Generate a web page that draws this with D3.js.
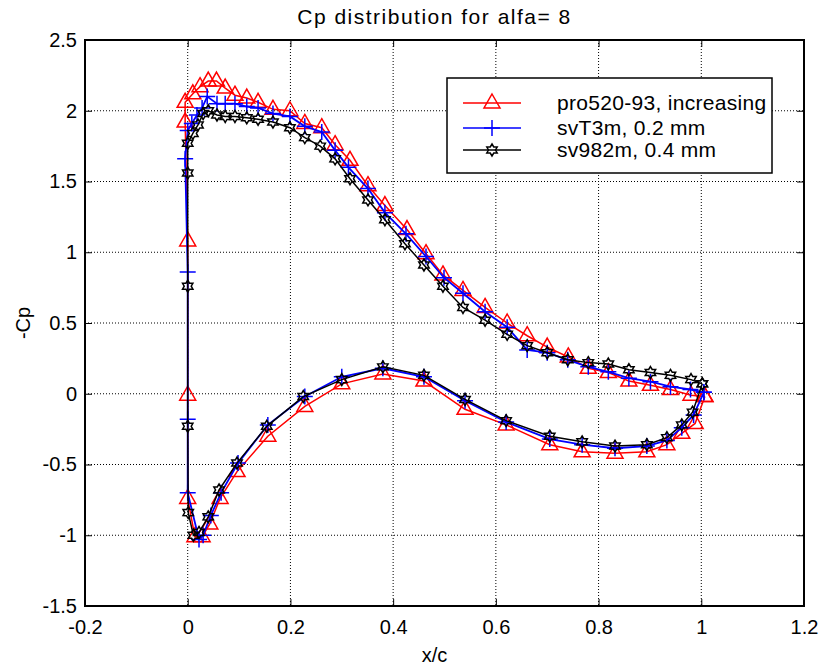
<!DOCTYPE html>
<html>
<head>
<meta charset="utf-8">
<script src="https://cdn.jsdelivr.net/npm/d3@7"></script>
<style>
  body { margin: 0; background: #fff; }
  svg { font-family: "Liberation Sans", Arial, sans-serif; }
</style>
</head>
<body>
<div id="chart"></div>
<script>
// pro520-93, increasing  (upper surface TE -> LE -> lower surface TE)
const proX  = [1.007, 0.980, 0.940, 0.901, 0.859, 0.819, 0.780, 0.741, 0.700, 0.661, 0.622, 0.579, 0.536, 0.497, 0.464, 0.427, 0.384, 0.351, 0.316, 0.287, 0.261, 0.228, 0.199, 0.166, 0.137, 0.115, 0.092, 0.073, 0.056, 0.040, 0.024, 0.010, -0.005, -0.005, 0.000, 0.000, 0.000, 0.014, 0.028, 0.043, 0.063, 0.096, 0.156, 0.228, 0.300, 0.380, 0.460, 0.540, 0.620, 0.705, 0.768, 0.832, 0.894, 0.933, 0.962, 0.988, 1.007];
const proCp = [-0.02, -0.01, 0.03, 0.06, 0.09, 0.15, 0.18, 0.26, 0.33, 0.41, 0.50, 0.61, 0.73, 0.84, 0.99, 1.16, 1.33, 1.47, 1.65, 1.76, 1.88, 1.91, 2.00, 2.01, 2.06, 2.09, 2.11, 2.16, 2.21, 2.21, 2.17, 2.12, 2.06, 1.92, 1.08, -0.01, -0.74, -1.01, -1.01, -0.92, -0.74, -0.55, -0.30, -0.09, 0.07, 0.14, 0.09, -0.11, -0.22, -0.36, -0.41, -0.42, -0.41, -0.36, -0.28, -0.21, -0.02];

// svT3m, 0.2 mm
const svtX  = [1.005, 0.979, 0.940, 0.901, 0.859, 0.819, 0.780, 0.740, 0.700, 0.661, 0.622, 0.579, 0.536, 0.499, 0.464, 0.425, 0.384, 0.351, 0.313, 0.287, 0.261, 0.228, 0.199, 0.166, 0.137, 0.115, 0.092, 0.073, 0.057, 0.038, 0.028, 0.018, 0.008, 0.000, -0.005, 0.000, 0.000, 0.000, 0.022, 0.030, 0.045, 0.065, 0.098, 0.156, 0.228, 0.300, 0.380, 0.460, 0.540, 0.620, 0.705, 0.768, 0.832, 0.894, 0.933, 0.962, 0.985, 1.005];
const svtCp = [0.01, 0.03, 0.05, 0.085, 0.11, 0.155, 0.19, 0.24, 0.29, 0.31, 0.47, 0.58, 0.71, 0.82, 0.97, 1.13, 1.28, 1.45, 1.60, 1.72, 1.85, 1.89, 1.96, 1.98, 2.02, 2.03, 2.05, 2.05, 2.05, 2.10, 2.02, 1.97, 1.91, 1.86, 1.66, 0.86, -0.18, -0.70, -1.03, -1.00, -0.86, -0.70, -0.49, -0.22, -0.02, 0.12, 0.18, 0.12, -0.05, -0.20, -0.32, -0.36, -0.385, -0.37, -0.33, -0.24, -0.15, 0.01];

// sv982m, 0.4 mm
const sv9X  = [1.002, 0.980, 0.940, 0.901, 0.859, 0.819, 0.780, 0.740, 0.700, 0.661, 0.622, 0.579, 0.536, 0.497, 0.460, 0.423, 0.384, 0.351, 0.316, 0.287, 0.258, 0.228, 0.199, 0.166, 0.137, 0.115, 0.092, 0.073, 0.057, 0.040, 0.030, 0.020, 0.010, 0.000, 0.000, 0.000, 0.000, 0.001, 0.011, 0.022, 0.040, 0.061, 0.096, 0.154, 0.225, 0.300, 0.380, 0.460, 0.540, 0.620, 0.705, 0.768, 0.832, 0.894, 0.933, 0.962, 0.983, 1.002];
const sv9Cp = [0.07, 0.10, 0.13, 0.15, 0.17, 0.21, 0.22, 0.24, 0.29, 0.34, 0.42, 0.52, 0.61, 0.76, 0.91, 1.06, 1.23, 1.37, 1.52, 1.66, 1.75, 1.81, 1.88, 1.92, 1.94, 1.95, 1.96, 1.96, 1.97, 2.00, 1.98, 1.90, 1.84, 1.77, 1.56, 0.76, -0.23, -0.84, -1.00, -0.98, -0.87, -0.68, -0.49, -0.23, -0.02, 0.10, 0.19, 0.13, -0.04, -0.19, -0.30, -0.34, -0.37, -0.36, -0.31, -0.22, -0.13, 0.07];

const seriesNames  = ["pro520-93, increasing", "svT3m, 0.2 mm", "sv982m, 0.4 mm"];
const seriesColors = ["#ff0000", "#0000ff", "#000000"];

const xTicks = [-0.2, 0, 0.2, 0.4, 0.6, 0.8, 1, 1.2];
const xTickLabels = ["-0.2", "0", "0.2", "0.4", "0.6", "0.8", "1", "1.2"];
const yTicks = [-1.5, -1, -0.5, 0, 0.5, 1, 1.5, 2, 2.5];
const yTickLabels = ["-1.5", "-1", "-0.5", "0", "0.5", "1", "1.5", "2", "2.5"];

class CpChart {

  constructor(_config, _data) {
    this.config = {
      parentElement: _config.parentElement,
      containerWidth: 828,
      containerHeight: 668,
      margin: {top: 40, right: 24, bottom: 62, left: 85}
    }
    this.data = _data;
    this.initVis();
  }

  initVis() {
    let vis = this;

    vis.config.width = vis.config.containerWidth - vis.config.margin.left - vis.config.margin.right;
    vis.config.height = vis.config.containerHeight - vis.config.margin.top - vis.config.margin.bottom;

    vis.svg = d3.select(vis.config.parentElement).append('svg')
        .attr('width', vis.config.containerWidth)
        .attr('height', vis.config.containerHeight);

    vis.chart = vis.svg.append('g')
        .attr('transform', `translate(${vis.config.margin.left},${vis.config.margin.top})`);

    vis.xScale = d3.scaleLinear()
        .domain([-0.2, 1.2])
        .range([0, vis.config.width]);

    vis.yScale = d3.scaleLinear()
        .domain([-1.5, 2.5])
        .range([vis.config.height, 0]);

    // dotted grid
    vis.chart.append('g')
      .selectAll('line')
      .data(xTicks.slice(1, -1))
      .join('line')
        .attr('x1', d => vis.xScale(d)).attr('x2', d => vis.xScale(d))
        .attr('y1', 0).attr('y2', vis.config.height)
        .attr('stroke', '#000')
        .attr('stroke-width', 1)
        .attr('stroke-dasharray', '1,2');

    vis.chart.append('g')
      .selectAll('line')
      .data(yTicks.slice(1, -1))
      .join('line')
        .attr('x1', 0).attr('x2', vis.config.width)
        .attr('y1', d => vis.yScale(d)).attr('y2', d => vis.yScale(d))
        .attr('stroke', '#000')
        .attr('stroke-width', 1)
        .attr('stroke-dasharray', '1,2');

    // axes (inward ticks, like matlab)
    const xFmt = (d, i) => xTickLabels[i];
    const yFmt = (d, i) => yTickLabels[i];
    vis.xAxis = d3.axisBottom(vis.xScale).tickValues(xTicks).tickFormat(xFmt).tickSizeInner(-7).tickSizeOuter(0).tickPadding(14);
    vis.yAxis = d3.axisLeft(vis.yScale).tickValues(yTicks).tickFormat(yFmt).tickSizeInner(-7).tickSizeOuter(0).tickPadding(8);
    vis.xAxisTop = d3.axisTop(vis.xScale).tickValues(xTicks).tickFormat('').tickSizeInner(-7).tickSizeOuter(0);
    vis.yAxisRight = d3.axisRight(vis.yScale).tickValues(yTicks).tickFormat('').tickSizeInner(-7).tickSizeOuter(0);

    vis.chart.append('g').attr('class', 'axis')
        .attr('transform', `translate(0,${vis.config.height})`).call(vis.xAxis);
    vis.chart.append('g').attr('class', 'axis').call(vis.yAxis);
    vis.chart.append('g').attr('class', 'axis').call(vis.xAxisTop);
    vis.chart.append('g').attr('class', 'axis')
        .attr('transform', `translate(${vis.config.width},0)`).call(vis.yAxisRight);

    vis.chart.selectAll('.axis path').remove();
    vis.chart.selectAll('.axis line').attr('stroke', '#000').attr('stroke-width', 1);
    vis.chart.selectAll('.axis text')
        .style('font-size', '20px')
        .style('fill', '#000');

    vis.chart.append('rect')
        .attr('width', vis.config.width)
        .attr('height', vis.config.height)
        .attr('fill', 'none')
        .attr('stroke', '#000')
        .attr('stroke-width', 2);

    vis.svg.append('text')
        .attr('x', vis.config.margin.left + vis.config.width / 2 - 10)
        .attr('y', 24)
        .attr('text-anchor', 'middle')
        .style('font-size', '21px')
        .style('letter-spacing', '1.5px')
        .text('Cp distribution for alfa= 8');

    vis.svg.append('text')
        .attr('x', vis.config.margin.left + vis.config.width / 2 - 10)
        .attr('y', 662)
        .attr('text-anchor', 'middle')
        .style('font-size', '20px')
        .text('x/c');

    vis.svg.append('text')
        .attr('transform', `translate(30,${vis.config.margin.top + vis.config.height / 2}) rotate(-90)`)
        .attr('text-anchor', 'middle')
        .style('font-size', '20px')
        .text('-Cp');

    vis.updateVis();
  }

  updateVis() {
    let vis = this;

    vis.line = d3.line()
        .x(d => vis.xScale(d.x))
        .y(d => vis.yScale(d.y));

    vis.renderVis();
  }

  marker(kind) {
    if (kind === 0) {
      // open triangle
      return 'M0,-9L8,5L-8,5Z';
    } else if (kind === 1) {
      return 'M-8,0H8M0,-8V8';
    }
    // hexagram
    const pts = [];
    for (let i = 0; i < 12; i++) {
      const a = -Math.PI / 2 + i * Math.PI / 6;
      const r = i % 2 === 0 ? 6 : 3.5;
      pts.push([r * Math.cos(a), r * Math.sin(a)]);
    }
    return 'M' + pts.map(p => p[0].toFixed(2) + ',' + p[1].toFixed(2)).join('L') + 'Z';
  }

  renderVis() {
    let vis = this;

    vis.data.forEach((s, i) => {
      const g = vis.chart.append('g');
      g.append('path')
          .datum(s.points)
          .attr('fill', 'none')
          .attr('stroke', s.color)
          .attr('stroke-width', i === 1 ? 1.8 : 1.5)
          .attr('d', vis.line);

      g.selectAll('.mk')
        .data(s.points)
        .join('path')
          .attr('class', 'mk')
          .attr('transform', d => `translate(${vis.xScale(d.x)},${vis.yScale(d.y)})`)
          .attr('d', vis.marker(i))
          .attr('fill', 'none')
          .attr('stroke', s.color)
          .attr('stroke-width', 1.5);
    });

    // legend
    const lx = 447 - vis.config.margin.left, ly = 78 - vis.config.margin.top;
    const legend = vis.chart.append('g').attr('transform', `translate(${lx},${ly})`);
    legend.append('rect')
        .attr('width', 325)
        .attr('height', 95)
        .attr('fill', '#fff')
        .attr('stroke', '#000')
        .attr('stroke-width', 1.5);

    const rowY = [25, 50, 72];
    vis.data.forEach((s, i) => {
      legend.append('line')
          .attr('x1', 16).attr('x2', 74)
          .attr('y1', rowY[i]).attr('y2', rowY[i])
          .attr('stroke', s.color)
          .attr('stroke-width', 1.5);
      legend.append('path')
          .attr('transform', `translate(45,${rowY[i]})`)
          .attr('d', vis.marker(i))
          .attr('fill', 'none')
          .attr('stroke', s.color)
          .attr('stroke-width', 1.5);
      legend.append('text')
          .attr('x', 110)
          .attr('y', rowY[i] + 7)
          .style('font-size', '21px')
          .style('letter-spacing', '0.3px')
          .text(s.name);
    });
  }
}

const xs = [proX, svtX, sv9X];
const ys = [proCp, svtCp, sv9Cp];
const data = seriesNames.map((name, i) => ({
  name: name,
  color: seriesColors[i],
  points: xs[i].map((x, j) => ({x: x, y: ys[i][j]}))
}));

new CpChart({parentElement: '#chart'}, data);
</script>
</body>
</html>
